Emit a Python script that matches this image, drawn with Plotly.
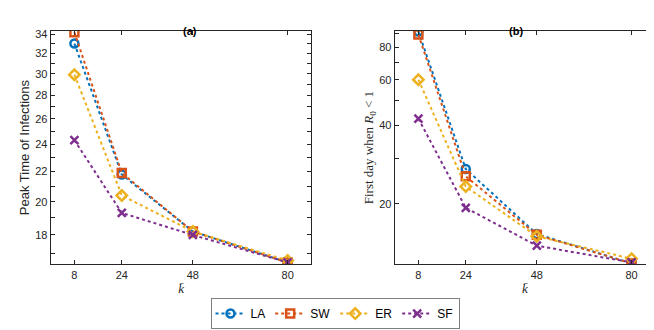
import math
import plotly.graph_objects as go

k_bar = [8, 24, 48, 80]
series_names = ["LA", "SW", "ER", "SF"]

peak_LA = [33.0, 21.8, 18.2, 16.5]
peak_SW = [34.2, 21.9, 18.2, 16.5]
peak_ER = [29.9, 20.4, 18.2, 16.6]
peak_SF = [24.3, 19.3, 18.0, 16.5]

first_LA = [92.0, 27.2, 15.3, 11.8]
first_SW = [89.5, 25.5, 15.2, 11.8]
first_ER = [60.0, 23.3, 15.0, 12.3]
first_SF = [42.5, 19.3, 13.8, 11.9]

peak_ticks = list(range(17, 35))
peak_text = [str(v) if v % 2 == 0 else "" for v in peak_ticks]
first_ticks = [20, 30, 40, 50, 60, 70, 80, 90]
first_text = ["20", "", "40", "", "60", "", "80", ""]

colors = ["#0072BD", "#D95319", "#EDB120", "#7E2F8E"]
symbols = ["circle-open", "square-open", "diamond-open", "x-thin-open"]

peak_data = [peak_LA, peak_SW, peak_ER, peak_SF]
first_data = [first_LA, first_SW, first_ER, first_SF]

fig = go.Figure()
for i, name in enumerate(series_names):
    fig.add_trace(go.Scatter(
        x=k_bar, y=peak_data[i], name=name, mode="lines+markers",
        line=dict(color=colors[i], width=2, dash="dot"),
        marker=dict(symbol=symbols[i], size=8, color=colors[i],
                    line=dict(color=colors[i], width=2.5)),
        xaxis="x", yaxis="y", legendgroup=name, showlegend=True))
for i, name in enumerate(series_names):
    fig.add_trace(go.Scatter(
        x=k_bar, y=first_data[i], name=name, mode="lines+markers",
        line=dict(color=colors[i], width=2, dash="dot"),
        marker=dict(symbol=symbols[i], size=8, color=colors[i],
                    line=dict(color=colors[i], width=2.5)),
        xaxis="x2", yaxis="y2", legendgroup=name, showlegend=False))

axcol = "#262626"
sans = "Liberation Sans, Arial, sans-serif"
serif = "Liberation Serif, Times New Roman, serif"
tickfont = dict(family=sans, size=11, color=axcol)

common_x = dict(range=[0, 88], tickvals=k_bar, ticktext=[str(v) for v in k_bar],
                ticks="inside", ticklen=4, tickcolor=axcol, showline=True,
                linecolor=axcol, linewidth=1, mirror="ticks", showgrid=False,
                zeroline=False, tickfont=tickfont,
                title=dict(text="<i>k̄</i>", font=dict(family=serif, size=13, color=axcol), standoff=4))

common_y = dict(ticks="inside", ticklen=4, tickcolor=axcol, showline=True,
                linecolor=axcol, linewidth=1, mirror="ticks", showgrid=False,
                zeroline=False, tickfont=tickfont, type="log")

fig.update_layout(
    width=654, height=330,
    margin=dict(l=0, r=0, t=0, b=0),
    paper_bgcolor="white", plot_bgcolor="white",
    xaxis=dict(domain=[0.0653, 0.4638], anchor="y", **common_x),
    xaxis2=dict(domain=[0.5913, 0.9897], anchor="y2", **common_x),
    yaxis=dict(domain=[0.2252, 0.9394], anchor="x",
               range=[math.log10(16.4), math.log10(34.36)],
               tickvals=peak_ticks, ticktext=peak_text,
               title=dict(text="Peak Time of Infections",
                          font=dict(family=sans, size=13, color=axcol), standoff=2),
               **common_y),
    yaxis2=dict(domain=[0.2252, 0.9394], anchor="x2",
                range=[math.log10(11.7), math.log10(92.5)],
                tickvals=first_ticks, ticktext=first_text,
                title=dict(text="First day when <i>R</i><sub>0</sub> &lt; 1",
                           font=dict(family=serif, size=13, color=axcol), standoff=2),
                **common_y),
    legend=dict(orientation="h", x=0.5, xanchor="center", y=9 / 330, yanchor="bottom",
                bordercolor="#7f7f7f", borderwidth=1,
                font=dict(family=sans, size=12, color="black"),
                itemwidth=30, tracegroupgap=0),
    annotations=[
        dict(text="<b>(a)</b>", x=0.2646, y=1 - 12 / 330, xref="paper", yref="paper",
             showarrow=False, font=dict(family=sans, size=11, color="black")),
        dict(text="<b>(b)</b>", x=0.7905, y=1 - 12 / 330, xref="paper", yref="paper",
             showarrow=False, font=dict(family=sans, size=11, color="black")),
    ],
)

fig.write_html("out.html")
